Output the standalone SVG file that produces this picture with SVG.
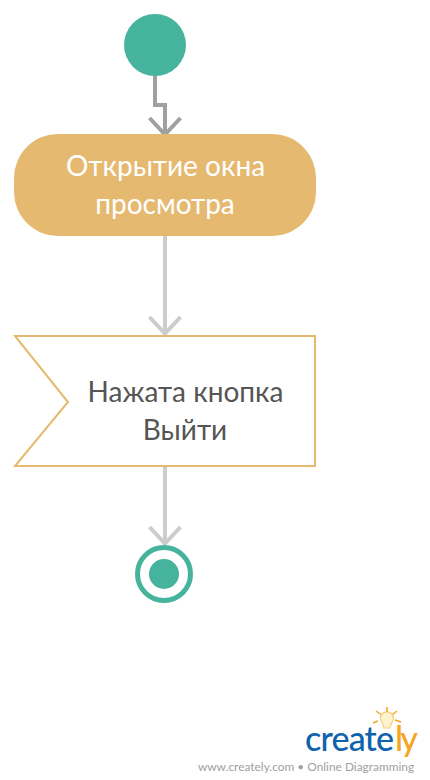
<svg xmlns="http://www.w3.org/2000/svg" width="430" height="780" viewBox="0 0 430 780">
<defs>
<style>
text{font-family:Lato,"Open Sans","Noto Sans",sans-serif;text-anchor:middle}
.lbl{font-size:28px;fill:#555}
.w{fill:#fff}
.c{fill:none;stroke:#ccc;stroke-width:4;stroke-linejoin:miter}
.g{fill:none;stroke:#a0a0a0;stroke-width:4}
.t{fill:#46b39d}
.logo{font-size:34px;font-weight:500;text-anchor:start}
</style>
</defs>
<rect width="430" height="780" fill="#fff"/>
<g id="connectors">
<path class="g" d="M155 75V105H165V135"/>
<path class="g" d="M149.500 118L165 134.500L180.500 118"/>
<path class="c" d="M165 236V335"/>
<path class="c" d="M149.500 317L165 333.500L180.500 317"/>
<path class="c" d="M165 464V545"/>
<path class="c" d="M149.500 527L165 543.500L180.500 527"/>
</g>
<g id="start"><circle class="t" cx="155" cy="45" r="31"/></g>
<g id="action">
<rect x="14" y="134" width="302" height="102" rx="44" ry="44" fill="#e5b96f"/>
<text class="lbl w" x="165.500" y="176">Открытие окна</text>
<text class="lbl w" x="165" y="214">просмотра</text>
</g>
<g id="event">
<path d="M15 336H315V466H15L68 402Z" fill="#fff" stroke="#e5b96f" stroke-width="2"/>
<text class="lbl" x="185.500" y="402">Нажата кнопка</text>
<text class="lbl" x="185" y="440">Выйти</text>
</g>
<g id="end">
<circle cx="164" cy="574" r="26.500" fill="#fff" stroke="#46b39d" stroke-width="5"/>
<circle class="t" cx="164" cy="574" r="15"/>
</g>
<g id="logo">
<text class="logo" x="305" y="751" textLength="89" style="fill:#0f62ac">create</text>
<text class="logo" x="395" y="751" textLength="23" style="fill:#f5a623">ly</text>
<text x="306" y="771" style="font-size:11.900px;fill:#a0a0a0">www.creately.com • Online Diagramming</text>
<path d="M384 728l-1.500-5a6.500 6.500 0 1 1 9 0l-1.500 5Z" fill="#fdf3cf" stroke="#f8cf7a" stroke-width="1.200"/>
<path d="M387 707v5M376 711l5 3.500M397 711l-4.500 3.500M373 723l5-2M401 722l-6-2" stroke="#f5a623" stroke-width="1.500" fill="none"/>
</g>
</svg>
